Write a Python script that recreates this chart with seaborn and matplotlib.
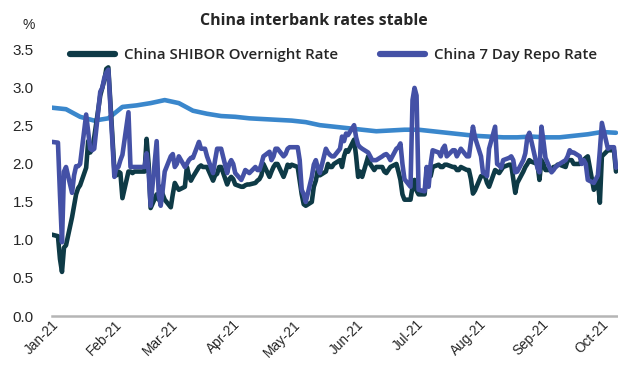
import pandas as pd
import seaborn as sns
import matplotlib.pyplot as plt
import matplotlib.dates as mdates
from matplotlib.transforms import ScaledTranslation

# daily fixings (business days)
dates = pd.bdate_range("2021-01-01", "2021-10-08")
shibor_on = [
    1.07,
    1.05, 0.75, 0.58, 0.9, 0.93,
    1.3, 1.45, 1.6, 1.68, 1.72,
    1.95, 2.3, 2.15, 2.2, 2.35,
    2.9, 3.0, 3.1, 3.25, 3.27,
    1.92, 1.85, 1.9, 1.88, 1.55,
    1.9, 1.9, 1.88, 1.9, 1.9,
    1.9, 1.9, 2.33, 2.0, 1.42,
    1.6, 1.53, 1.7, 1.6, 1.53,
    1.43, 1.6, 1.75, 1.7, 1.66,
    1.7, 1.96, 1.85, 1.78, 1.83,
    1.96, 1.98, 1.96, 1.96, 1.96,
    1.78, 1.85, 1.87, 1.96, 1.96,
    1.73, 1.8, 1.83, 1.8, 1.73,
    1.7, 1.7, 1.72, 1.73, 1.73,
    1.75, 1.78, 1.8, 1.85, 2.0,
    1.83, 1.9, 1.96, 2.0, 2.0,
    1.83, 1.9, 1.99, 1.96, 1.99,
    1.96, 1.78, 1.6, 1.47, 1.45,
    1.5, 1.7, 1.78, 1.92, 1.85,
    1.9, 2.0, 1.96, 1.96, 2.0,
    2.05, 1.96, 2.1, 2.18, 2.16,
    2.32, 2.1, 1.83, 1.9, 1.83,
    2.1, 2.0, 1.96, 1.92, 1.96,
    1.96, 1.9, 1.88, 1.92, 1.96,
    2.0, 1.9, 1.79, 1.6, 1.53,
    1.53, 1.7, 1.79, 1.65, 1.6,
    1.6, 1.88, 1.84, 1.84, 1.96,
    1.99, 1.96, 1.96, 1.99, 1.99,
    1.96, 1.96, 1.92, 1.92, 1.96,
    1.92, 1.92, 1.8, 1.61, 1.65,
    1.84, 1.84, 1.84, 1.75, 1.7,
    1.92, 1.9, 1.88, 1.92, 1.96,
    1.99, 1.99, 1.8, 1.62, 1.75,
    1.9, 1.96, 2.0, 2.05, 2.03,
    2.0, 1.79, 2.05, 2.0, 1.92,
    1.92, 1.96, 1.96, 1.99, 1.99,
    1.96, 2.05, 2.05, 2.05, 2.0,
    2.0, 2.05, 2.05, 2.08, 2.1,
    1.66, 1.7, 1.78, 1.49, 2.1,
    2.18, 2.18, 2.18, 2.18, 1.9,
]
repo_7d = [
    2.29,
    2.28, 1.6, 0.97, 1.9, 1.96,
    1.62, 1.85, 1.97, 1.97, 2.0,
    2.65, 2.42, 2.2, 2.18, 2.2,
    2.95, 3.0, 3.13, 3.2, 3.24,
    1.83, 1.96, 1.96, 2.05, 2.12,
    2.68, 1.96, 1.96, 1.96, 1.96,
    1.96, 1.96, 2.14, 1.9, 1.45,
    2.3, 1.6, 1.45, 1.66, 1.9,
    2.1, 2.13, 1.96, 2.0, 2.1,
    1.96, 2.0, 2.05, 2.08, 2.08,
    2.29, 2.2, 2.2, 2.2, 2.1,
    1.88, 2.05, 2.2, 2.2, 2.2,
    1.88, 2.0, 2.05, 2.0, 1.88,
    1.79, 1.85, 1.92, 1.9, 1.88,
    1.96, 1.92, 1.92, 2.0, 2.1,
    2.16, 2.05, 2.1, 2.2, 2.2,
    2.1, 2.13, 2.2, 2.22, 2.22,
    2.22, 2.05, 1.66, 1.6, 1.5,
    1.83, 1.99, 2.05, 1.95, 1.88,
    2.2, 2.15, 2.12, 2.1, 2.1,
    2.2, 2.36, 2.3, 2.4, 2.38,
    2.51, 2.35, 2.25, 2.22, 2.2,
    2.15, 2.1, 2.05, 2.05, 2.05,
    2.1, 2.12, 2.13, 2.1, 2.05,
    2.2, 2.22, 2.27, 2.0, 1.8,
    1.7, 2.84, 3.0, 2.9, 1.66,
    1.64, 1.96, 1.7, 2.0, 2.18,
    2.15, 2.1, 2.2, 2.24, 2.1,
    2.18, 2.18, 2.1, 2.15, 2.2,
    2.1, 2.1, 2.3, 2.49, 2.35,
    2.1, 1.88, 1.88, 1.84, 2.2,
    2.49, 2.0, 1.98, 1.95, 2.05,
    2.08, 2.1, 2.05, 1.89, 1.9,
    2.05, 2.14, 2.35, 2.41, 2.3,
    1.95, 1.89, 2.49, 2.3, 2.08,
    1.89, 1.92, 1.96, 1.98, 2.0,
    2.05, 2.1, 2.18, 2.15, 2.15,
    2.1, 2.0, 2.05, 2.0, 1.79,
    1.75, 1.8, 1.85, 2.18, 2.54,
    2.2, 2.22, 2.22, 2.22, 1.95,
]

# smoother unlabelled series (weekly, Fridays)
weekly_dates = pd.date_range("2021-01-01", "2021-10-08", freq="W-FRI")
shibor_3m = [
    2.74, 2.72, 2.62, 2.57, 2.6, 2.75, 2.77, 2.8, 2.84, 2.8,
    2.7, 2.66, 2.63, 2.62, 2.6, 2.59, 2.58, 2.57, 2.55, 2.51,
    2.49, 2.47, 2.45, 2.43, 2.44, 2.45, 2.45, 2.43, 2.41, 2.39,
    2.37, 2.36, 2.35, 2.35, 2.36, 2.35, 2.35, 2.37, 2.39, 2.42,
    2.41,
]

DARK = "#0e3a46"
INDIGO = "#4451a6"
LIGHT = "#3a87cc"

sns.set_style("white")
plt.rcParams['font.family'] = ['Liberation Sans', 'DejaVu Sans']

fig = plt.figure(figsize=(6.18, 3.78), dpi=100)
ax = fig.add_axes([0.084, 0.164, 0.916, 0.704])

sns.lineplot(x=weekly_dates, y=shibor_3m, ax=ax, color=LIGHT, linewidth=3.3)
sns.lineplot(x=dates, y=shibor_on, ax=ax, color=DARK, linewidth=3.3,
             label="China SHIBOR Overnight Rate")
sns.lineplot(x=dates, y=repo_7d, ax=ax, color=INDIGO, linewidth=3.3,
             label="China 7 Day Repo Rate")

ax.set_xlim(pd.Timestamp("2021-01-01"), pd.Timestamp("2021-10-09"))
ax.set_ylim(0, 3.5)
ax.set_yticks([0, 0.5, 1.0, 1.5, 2.0, 2.5, 3.0, 3.5])
ax.yaxis.set_major_formatter(plt.FuncFormatter(lambda v, p: f"{v:.1f}"))
ax.xaxis.set_major_locator(mdates.MonthLocator())
ax.xaxis.set_major_formatter(mdates.DateFormatter("%b-%y"))

for s in ["top", "right", "left"]:
    ax.spines[s].set_visible(False)
ax.spines["bottom"].set_color("#b5b5b5")
ax.spines["bottom"].set_linewidth(1.8)
ax.tick_params(axis="x", direction="out", length=5, width=1.5, color="#b5b5b5",
               labelsize=9.8, pad=0)
ax.tick_params(axis="y", length=0, labelsize=11, pad=13)
# nudge date labels up so the whole label sits inside the figure
shift = ScaledTranslation(0, 4 / 72, fig.dpi_scale_trans)
for lab in ax.get_xticklabels():
    lab.set_rotation(45)
    lab.set_ha("right")
    lab.set_rotation_mode("anchor")
    lab.set_transform(lab.get_transform() + shift)
ax.set_xlabel("")
ax.set_ylabel("")
ax.grid(False)

fig.text(0.037, 0.935, "%", fontsize=10, ha="left", va="center")
fig.text(0.508, 0.945, "China interbank rates stable", fontsize=11.5,
         fontweight="bold", ha="center", va="center", family=["Open Sans", "DejaVu Sans"])

leg = ax.legend(loc="center", bbox_to_anchor=(0.54, 0.855), bbox_transform=fig.transFigure,
                ncol=2, frameon=False, handlelength=3.0, columnspacing=2.8,
                handletextpad=0.6, prop={"family": "Open Sans", "weight": "semibold", "size": 10.8})
for line in leg.get_lines():
    line.set_linewidth(4.5)

fig.savefig("out.png", dpi=100)
